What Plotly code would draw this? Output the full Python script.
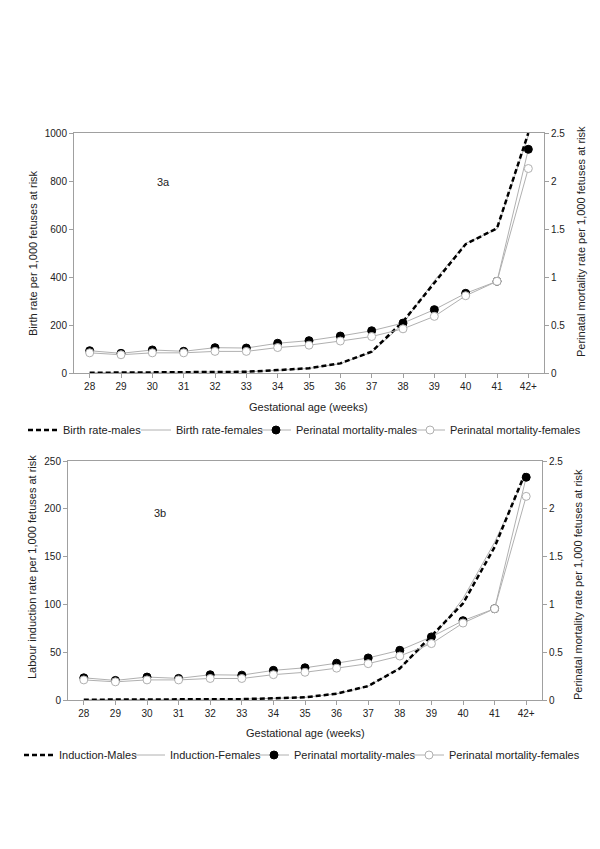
import plotly.graph_objects as go
from plotly.subplots import make_subplots

weeks = ["28", "29", "30", "31", "32", "33", "34", "35", "36", "37", "38", "39", "40", "41", "42+"]

birth_males = [1, 2, 2, 2, 3, 5, 12, 20, 40, 89, 214, 375, 537, 603, 1000]
birth_females = [1, 2, 2, 2, 3, 5, 11, 19, 39, 86, 205, 385, 540, 600, 990]

induction_males = [0.3, 0.4, 0.5, 0.5, 0.6, 0.9, 1.8, 2.8, 6.6, 14.6, 33, 67, 101, 160, 240]
induction_females = [0.3, 0.4, 0.5, 0.5, 0.6, 0.9, 1.7, 2.7, 6.4, 14.2, 34, 63, 106, 165, 236]

mort_males = [0.232, 0.205, 0.24, 0.226, 0.264, 0.26, 0.31, 0.337, 0.385, 0.44, 0.52, 0.66, 0.83, 0.955, 2.33]
mort_females = [0.21, 0.19, 0.21, 0.21, 0.225, 0.225, 0.265, 0.29, 0.333, 0.38, 0.46, 0.59, 0.805, 0.955, 2.13]

FONT = "Liberation Sans, Arial, sans-serif"
GREY = "#b0b0b0"
AX = "#a0a0a0"
TXT = "#222222"

# the page body adds an 8px offset; work in window pixels and convert
OFF = 8.0
W = 600.0 - OFF
H = 849.0 - OFF

fig = make_subplots(rows=2, cols=1, specs=[[{"secondary_y": True}], [{"secondary_y": True}]])


def add_panel(row, legs, rate_m, rate_f, name_m, name_f):
    fig.add_trace(go.Scatter(x=weeks, y=rate_f, name=name_f, mode="lines",
                             line=dict(color=GREY, width=1), legend=legs[1]),
                  row=row, col=1, secondary_y=False)
    fig.add_trace(go.Scatter(x=weeks, y=rate_m, name=name_m, mode="lines",
                             line=dict(color="black", width=2.5, dash="5px,3px"), legend=legs[0]),
                  row=row, col=1, secondary_y=False)
    fig.add_trace(go.Scatter(x=weeks, y=mort_males, name="Perinatal mortality-males", mode="lines+markers",
                             line=dict(color=GREY, width=1),
                             marker=dict(symbol="circle", size=8, color="black", line=dict(color="black", width=1)),
                             legend=legs[2]),
                  row=row, col=1, secondary_y=True)
    fig.add_trace(go.Scatter(x=weeks, y=mort_females, name="Perinatal mortality-females", mode="lines+markers",
                             line=dict(color=GREY, width=1),
                             marker=dict(symbol="circle", size=8, color="white", line=dict(color=GREY, width=1)),
                             legend=legs[3]),
                  row=row, col=1, secondary_y=True)


add_panel(1, ["legend", "legend2", "legend3", "legend4"], birth_males, birth_females,
          "Birth rate-males", "Birth rate-females")
add_panel(2, ["legend5", "legend6", "legend7", "legend8"], induction_males, induction_females,
          "Induction-Males", "Induction-Females")


def px(x):
    return (x - OFF) / W


def py(y):
    return 1 - (y - OFF) / H


def ydom(top, bottom):
    return [py(bottom), py(top)]


def xdom(left, right):
    return [px(left), px(right)]


xcommon = dict(type="category", range=[-0.5, 14.5], showline=True, linecolor=AX, linewidth=1, mirror=True,
               ticks="outside", ticklen=4, tickcolor=AX, showgrid=False, zeroline=False, automargin=False,
               tickfont=dict(size=10, color=TXT, family=FONT))
ycommon = dict(showline=True, linecolor=AX, linewidth=1, ticks="outside", ticklen=4, tickcolor=AX,
               showgrid=False, zeroline=False, automargin=False, tickfont=dict(size=10, color=TXT, family=FONT))


def leg(x_px, y_px):
    return dict(orientation="h", x=px(x_px), xanchor="left", y=py(y_px), yanchor="middle",
                font=dict(size=11, color=TXT, family=FONT), bgcolor="rgba(0,0,0,0)",
                itemwidth=30, borderwidth=0)


layout = dict(
    width=int(W), height=int(H), margin=dict(l=0, r=0, t=0, b=0, autoexpand=False),
    paper_bgcolor="white", plot_bgcolor="white",
    font=dict(family=FONT, color=TXT, size=11),
    xaxis=dict(domain=xdom(74, 544), **xcommon),
    yaxis=dict(domain=ydom(133, 373), range=[0, 1000], dtick=200, **ycommon),
    yaxis2=dict(range=[0, 2.5], dtick=0.5, side="right", **ycommon),
    xaxis2=dict(domain=xdom(68, 542), **xcommon),
    yaxis3=dict(domain=ydom(461, 700), range=[0, 250], dtick=50, **ycommon),
    yaxis4=dict(range=[0, 2.5], dtick=0.5, side="right", **ycommon),
    showlegend=True,
)

top_leg_x = [23, 136, 256, 410]
bot_leg_x = [19, 130, 254, 409]
for i, xp in enumerate(top_leg_x):
    key = "legend" if i == 0 else "legend%d" % (i + 1)
    layout[key] = leg(xp, 430)
for i, xp in enumerate(bot_leg_x):
    layout["legend%d" % (i + 5)] = leg(xp, 755)

fig.update_layout(**layout)

ann = [
    dict(text="Gestational age (weeks)", x=308, y=407),
    dict(text="Gestational age (weeks)", x=305, y=733),
    dict(text="Birth rate per 1,000 fetuses at risk", x=33, y=253, textangle=-90),
    dict(text="Perinatal mortality rate per 1,000 fetuses at risk", x=581, y=242, textangle=-90),
    dict(text="Labour induction rate per 1,000 fetuses at risk", x=32, y=567, textangle=-90),
    dict(text="Perinatal mortality rate per 1,000 fetuses at risk", x=578, y=585, textangle=-90),
    dict(text="3a", x=163, y=182),
    dict(text="3b", x=160, y=513),
]
for a in ann:
    a["x"] = px(a["x"])
    a["y"] = py(a["y"])
    fig.add_annotation(xref="paper", yref="paper", showarrow=False, xanchor="center", yanchor="middle",
                       font=dict(size=11, color=TXT, family=FONT), **a)

fig.write_html("out.html")
